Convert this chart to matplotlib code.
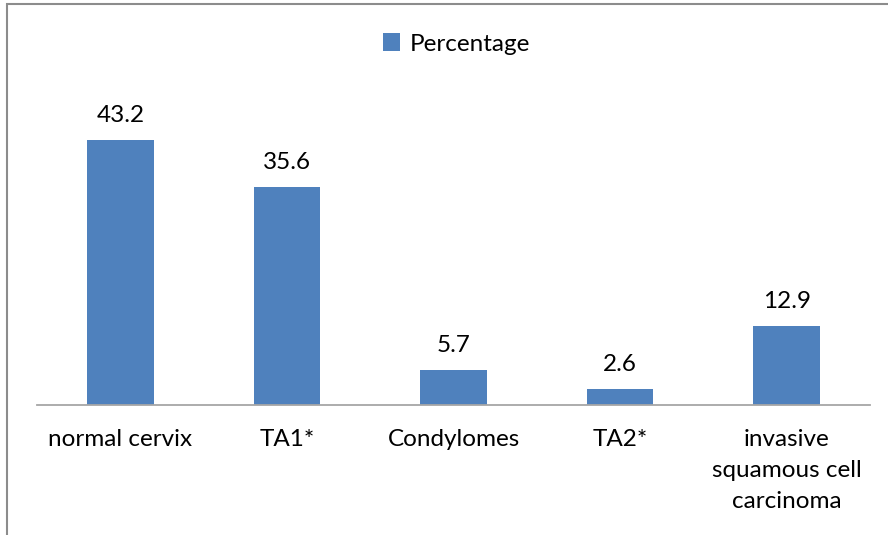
import matplotlib
matplotlib.use("Agg")
import matplotlib.pyplot as plt
from matplotlib.patches import Rectangle


CATEGORIES = ["normal cervix", "TA1*", "Condylomes", "TA2*",
              "invasive\nsquamous cell\ncarcinoma"]
PERCENTAGE = [43.2, 35.6, 5.7, 2.6, 12.9]

BAR_COLOR = "#4F81BD"
W, H = 888, 535
FS = 17.5

plt.rcParams["font.family"] = ["Lato", "DejaVu Sans"]

fig = plt.figure(figsize=(W / 100, H / 100), dpi=100)

# outer chart border (only left and top visible in the crop)
fig.add_artist(Rectangle((7 / W, -0.1), 1.2, 1.1 - 3.5 / H, transform=fig.transFigure,
                         fill=False, edgecolor="#8c8c8c", linewidth=1.5))

ax_left, ax_right = 37 / W, 870 / W
ax_bottom = (H - 405) / H
ax_top = (H - 60) / H
ax = fig.add_axes([ax_left, ax_bottom, ax_right - ax_left, ax_top - ax_bottom])

x = range(len(CATEGORIES))
bars = ax.bar(x, PERCENTAGE, width=0.4, color=BAR_COLOR, label="Percentage")
ax.set_xlim(-0.5, len(CATEGORIES) - 0.5)
ax.set_ylim(0, (405 - 60) / (265 / 43.2))

for rect, val in zip(bars, PERCENTAGE):
    ax.annotate(f"{val}", (rect.get_x() + rect.get_width() / 2, val),
                xytext=(0, 10), textcoords="offset points",
                ha="center", va="bottom", fontsize=FS, color="black")

ax.set_xticks(list(x))
ax.set_xticklabels(CATEGORIES, fontsize=FS, linespacing=1.6, va="top")
ax.tick_params(axis="x", length=0, pad=17)
ax.set_yticks([])
for side in ["left", "right", "top"]:
    ax.spines[side].set_visible(False)
ax.spines["bottom"].set_color("#a6a6a6")
ax.spines["bottom"].set_linewidth(1.3)

fig.legend(handles=[bars], labels=["Percentage"], loc="center",
           bbox_to_anchor=(457 / W, 1 - 44 / H), frameon=False,
           fontsize=FS, handlelength=0.7, handleheight=0.7, handletextpad=0.4)

fig.savefig("out.png", dpi=100, facecolor="white")
